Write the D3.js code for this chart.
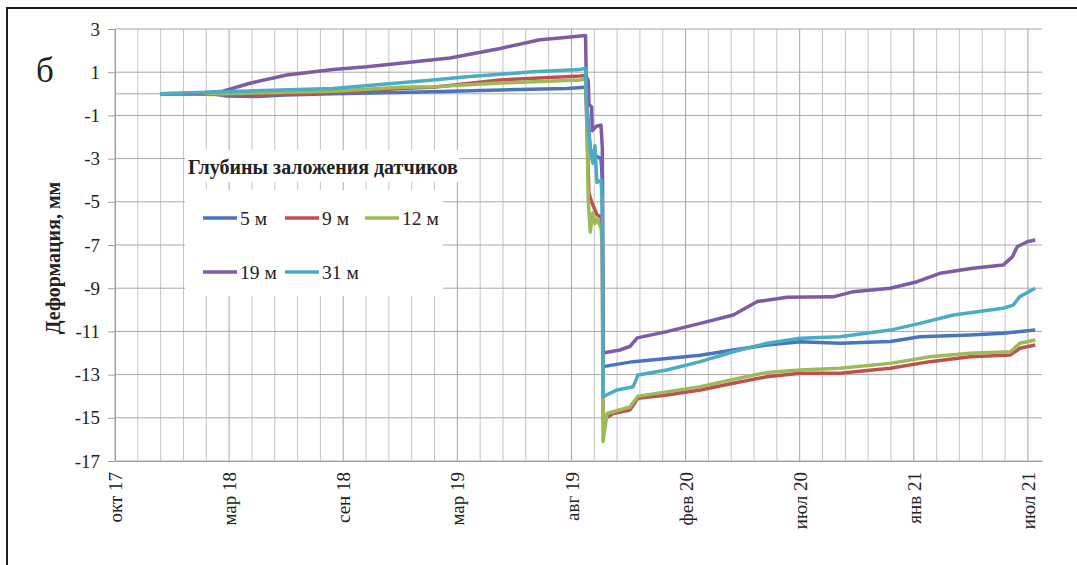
<!DOCTYPE html>
<html>
<head>
<meta charset="utf-8">
<script src="https://cdn.jsdelivr.net/npm/d3@7"></script>
<style>
  body{margin:0;background:#fff;}
  text{font-family:"Liberation Serif","Times New Roman",serif;fill:#222;}
</style>
</head>
<body>
<svg id="main"></svg>
<script>
//--------data----------
const depths = ['5 м', '9 м', '12 м', '19 м', '31 м'];
const colors = ['#4a74c0', '#c0504d', '#9bbb59', '#7f5aa6', '#4bacc6'];
const yTicks = [3, 1, -1, -3, -5, -7, -9, -11, -13, -15, -17];

// readings [date, mm]
const s5 = [
  ['2017-12-16', 0], ['2018-03-10', -0.02], ['2018-03-25', -0.1], ['2018-05-10', -0.13],
  ['2018-06-20', -0.05], ['2018-08-31', 0.0], ['2019-01-27', 0.1], ['2019-08-14', 0.25],
  ['2019-09-11', 0.3], ['2019-09-13', -0.5], ['2019-09-18', -2.5], ['2019-09-22', -3.2],
  ['2019-09-28', -2.9], ['2019-10-04', -3.0], ['2019-10-06', -4.0], ['2019-10-07', -12.63],
  ['2019-11-21', -12.4], ['2020-01-10', -12.25], ['2020-02-29', -12.1], ['2020-04-18', -11.86],
  ['2020-06-07', -11.63], ['2020-07-27', -11.48], ['2020-09-24', -11.55], ['2020-12-08', -11.47],
  ['2021-01-21', -11.25], ['2021-04-06', -11.17], ['2021-05-25', -11.09], ['2021-07-12', -10.94]
];
const s9 = [
  ['2017-12-16', 0], ['2018-03-20', -0.03], ['2018-05-10', -0.06], ['2018-08-31', 0.05],
  ['2018-12-09', 0.25], ['2019-01-27', 0.3], ['2019-05-07', 0.64], ['2019-09-03', 0.82],
  ['2019-09-11', 0.85], ['2019-09-13', -1.5], ['2019-09-16', -4.6], ['2019-09-20', -5.0],
  ['2019-09-28', -5.6], ['2019-10-04', -5.7], ['2019-10-06', -6.5], ['2019-10-07', -15.1],
  ['2019-10-22', -14.8], ['2019-11-16', -14.64], ['2019-11-28', -14.1], ['2020-01-10', -13.94],
  ['2020-02-29', -13.71], ['2020-04-18', -13.4], ['2020-06-07', -13.1], ['2020-07-27', -12.94],
  ['2020-09-24', -12.94], ['2020-12-08', -12.71], ['2021-02-05', -12.4], ['2021-04-06', -12.17],
  ['2021-06-05', -12.09], ['2021-06-19', -11.78], ['2021-07-12', -11.63]
];
const s12 = [
  ['2017-12-16', 0], ['2018-03-20', 0.0], ['2018-08-31', 0.12], ['2018-12-09', 0.3],
  ['2019-01-27', 0.33], ['2019-05-07', 0.5], ['2019-09-03', 0.64], ['2019-09-11', 0.68],
  ['2019-09-13', -1.2], ['2019-09-15', -4.9], ['2019-09-18', -6.4], ['2019-09-22', -5.5],
  ['2019-09-25', -6.0], ['2019-09-28', -5.8], ['2019-10-04', -6.2], ['2019-10-06', -7.0],
  ['2019-10-07', -16.1], ['2019-10-13', -14.8], ['2019-11-16', -14.5], ['2019-11-28', -14.0],
  ['2020-01-10', -13.8], ['2020-02-29', -13.56], ['2020-04-18', -13.22], ['2020-06-07', -12.9],
  ['2020-07-27', -12.79], ['2020-09-24', -12.71], ['2020-12-08', -12.48], ['2021-02-05', -12.17],
  ['2021-04-06', -12.01], ['2021-06-05', -11.94], ['2021-06-19', -11.55], ['2021-07-12', -11.4]
];
const s19 = [
  ['2017-12-16', 0], ['2018-02-10', 0.02], ['2018-03-20', 0.12], ['2018-04-29', 0.49],
  ['2018-06-23', 0.87], ['2018-08-31', 1.13], ['2018-10-20', 1.25], ['2018-12-09', 1.41],
  ['2019-02-21', 1.66], ['2019-05-07', 2.1], ['2019-07-05', 2.5], ['2019-08-04', 2.58],
  ['2019-09-11', 2.7], ['2019-09-12', 0.8], ['2019-09-15', 0.6], ['2019-09-16', -0.5],
  ['2019-09-20', -0.6], ['2019-09-21', -1.7], ['2019-09-27', -1.5], ['2019-10-04', -1.45],
  ['2019-10-06', -2.5], ['2019-10-07', -12.0], ['2019-11-01', -11.86], ['2019-11-16', -11.7],
  ['2019-11-27', -11.3], ['2020-01-10', -11.01], ['2020-02-29', -10.63], ['2020-04-18', -10.24],
  ['2020-05-24', -9.62], ['2020-07-07', -9.42], ['2020-09-14', -9.4], ['2020-10-14', -9.16],
  ['2020-12-08', -9.0], ['2021-01-17', -8.7], ['2021-02-20', -8.31], ['2021-04-10', -8.08],
  ['2021-05-25', -7.93], ['2021-06-08', -7.54], ['2021-06-15', -7.08], ['2021-06-30', -6.85],
  ['2021-07-12', -6.77]
];
const s31 = [
  ['2017-12-16', 0], ['2018-03-20', 0.1], ['2018-08-31', 0.25], ['2019-01-27', 0.64],
  ['2019-03-18', 0.79], ['2019-06-25', 1.02], ['2019-09-03', 1.13], ['2019-09-11', 1.18],
  ['2019-09-13', -0.9], ['2019-09-18', -2.5], ['2019-09-22', -3.2], ['2019-09-25', -2.4],
  ['2019-09-28', -4.1], ['2019-10-04', -4.0], ['2019-10-06', -5.0], ['2019-10-07', -14.02],
  ['2019-10-28', -13.71], ['2019-11-21', -13.56], ['2019-11-28', -13.02], ['2020-01-10', -12.79],
  ['2020-02-29', -12.4], ['2020-04-18', -11.94], ['2020-06-07', -11.55], ['2020-07-27', -11.32],
  ['2020-09-24', -11.25], ['2020-12-08', -10.94], ['2021-01-21', -10.63], ['2021-03-12', -10.24],
  ['2021-05-25', -9.93], ['2021-06-09', -9.78], ['2021-06-19', -9.39], ['2021-07-12', -9.0]
];
const allSeries = [s5, s9, s12, s19, s31];

//--------code----------
const parse = d3.timeParse('%Y-%m-%d');
const ru = d3.timeFormatLocale({
  dateTime: '%A, %e %B %Y г. %X', date: '%d.%m.%Y', time: '%H:%M:%S', periods: ['AM', 'PM'],
  days: ['воскресенье','понедельник','вторник','среда','четверг','пятница','суббота'],
  shortDays: ['вс','пн','вт','ср','чт','пт','сб'],
  months: ['январь','февраль','март','апрель','май','июнь','июль','август','сентябрь','октябрь','ноябрь','декабрь'],
  shortMonths: ['янв','фев','мар','апр','май','июн','июл','авг','сен','окт','ноя','дек']
});
const fmt = ru.format('%b %y');

let width = 1077, height = 565;
let svg = d3.select('#main').attr('width', width).attr('height', height);

// axis runs in 170-day steps, 5 minor steps each (Excel date axis)
let t0 = parse('2017-10-10');
let majors = d3.range(9).map(i => d3.timeDay.offset(t0, 170 * i));
let minors = d3.range(41).map(i => d3.timeDay.offset(t0, 34 * i));

let sx = d3.scaleTime().domain([t0, d3.timeDay.offset(t0, 1381)]).range([115, 1042]);
let sy = d3.scaleLinear().domain([-17, 3]).range([461, 29]);

// gridlines
svg.append('g')
  .selectAll('line')
  .data(minors)
  .join('line')
  .attr('x1', d => sx(d)).attr('x2', d => sx(d))
  .attr('y1', sy(3)).attr('y2', sy(-17))
  .attr('stroke', (d, i) => i % 5 === 0 ? '#a5a5a5' : '#c4c4c4')
  .attr('stroke-width', 1);
svg.append('g')
  .selectAll('line')
  .data(yTicks.concat([0]))
  .join('line')
  .attr('x1', sx.range()[0]).attr('x2', sx.range()[1])
  .attr('y1', d => sy(d)).attr('y2', d => sy(d))
  .attr('stroke', '#a8a8a8')
  .attr('stroke-width', 1);

// y axis
let gy = svg.append('g')
  .attr('transform', `translate(${sx.range()[0]},0)`)
  .call(d3.axisLeft(sy).tickValues(yTicks).tickSize(7).tickPadding(8).tickSizeOuter(0).tickFormat(d => String(d)));
gy.select('.domain').attr('stroke', '#a0a0a0');
gy.selectAll('.tick line').attr('stroke', '#a0a0a0');
gy.selectAll('.tick text').style('font-size', '19px').attr('fill', '#222').attr('font-family', null);

// x axis
let gx = svg.append('g')
  .attr('transform', `translate(0,${sy(-17)})`)
  .call(d3.axisBottom(sx).tickValues(majors).tickSize(0).tickSizeOuter(0).tickFormat(fmt));
gx.select('.domain').attr('stroke', '#a0a0a0');
gx.selectAll('.tick text')
  .attr('font-family', null)
  .style('font-size', '19px')
  .attr('fill', '#222')
  .attr('x', -11).attr('y', 0).attr('dy', '0.35em')
  .attr('transform', 'rotate(-90)')
  .style('text-anchor', 'end');

// series, Excel order so 31 m ends on top
let line = d3.line().x(d => sx(parse(d[0]))).y(d => sy(d[1]));
svg.append('g')
  .selectAll('path')
  .data(allSeries)
  .join('path')
  .attr('d', line)
  .attr('fill', 'none')
  .attr('stroke', (d, i) => colors[i])
  .attr('stroke-width', 3.5)
  .attr('stroke-linejoin', 'round');

// legend
let lg = svg.append('g');
lg.append('rect').attr('x', 185).attr('y', 150).attr('width', 274).attr('height', 32).attr('fill', '#fff');
lg.append('rect').attr('x', 185).attr('y', 190).attr('width', 258).attr('height', 106).attr('fill', '#fff');
lg.append('text')
  .attr('x', 188).attr('y', 167).attr('dy', '0.35em')
  .style('font-size', '20px').style('font-weight', 'bold')
  .text('Глубины заложения датчиков');
let legPos = [[203, 218], [285, 218], [365, 218], [203, 272], [285, 272]];
let entries = lg.selectAll('.entry')
  .data(depths)
  .join('g')
  .attr('class', 'entry')
  .attr('transform', (d, i) => `translate(${legPos[i][0]},${legPos[i][1]})`);
entries.append('line')
  .attr('x1', 0).attr('x2', 34).attr('y1', 0).attr('y2', 0)
  .attr('stroke', (d, i) => colors[i]).attr('stroke-width', 3.5);
entries.append('text')
  .attr('x', 37).attr('y', 0).attr('dy', '0.35em')
  .style('font-size', '19.5px')
  .text(d => d);

// y title
svg.append('text')
  .attr('transform', 'translate(60,258) rotate(-90)')
  .style('text-anchor', 'middle')
  .style('font-size', '20px').style('font-weight', 'bold')
  .text('Деформация, мм');

// panel letter
svg.append('text')
  .attr('x', 36).attr('y', 82)
  .style('font-size', '35px')
  .text('б');

// frame
svg.append('path')
  .attr('d', `M7,${height} V8 H${width}`)
  .attr('fill', 'none').attr('stroke', '#1e1e1e').attr('stroke-width', 2);
</script>
</body>
</html>
